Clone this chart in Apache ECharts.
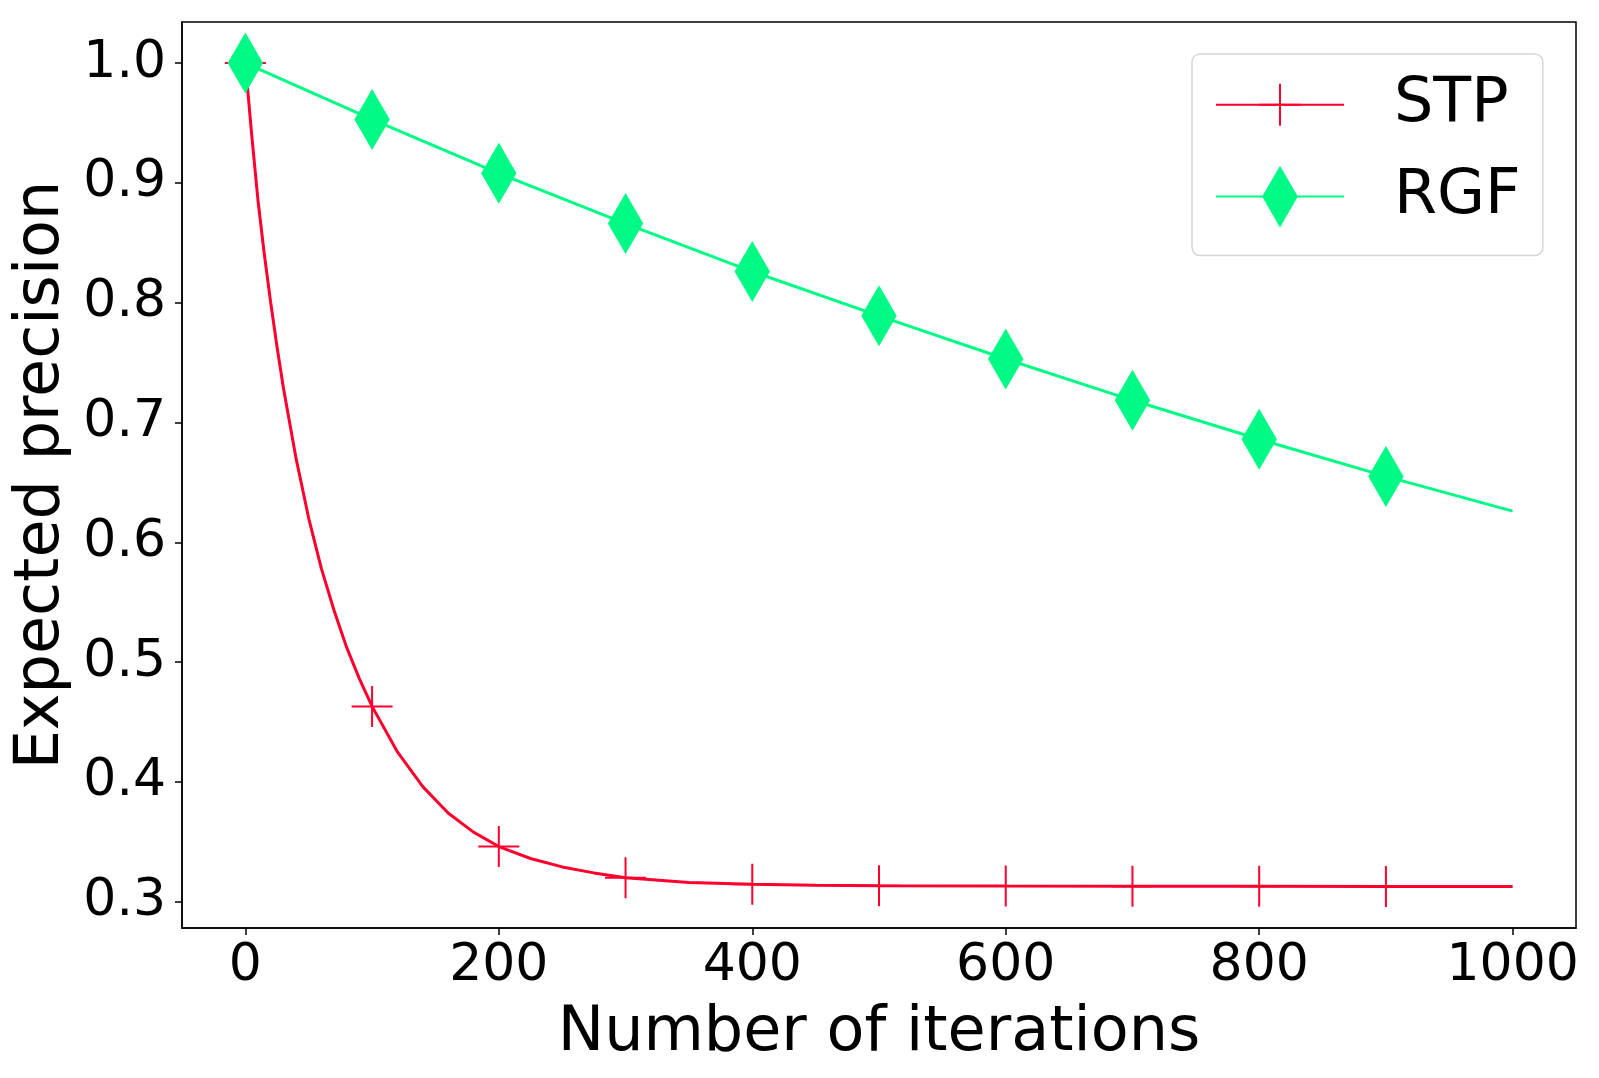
<!DOCTYPE html>
<html lang="en">
<head>
    <meta charset="UTF-8">
    <title>Expected precision</title>
    <script src="https://cdn.jsdelivr.net/npm/echarts@6/dist/echarts.min.js"></script>
    <style>
        html, body { margin: 0; padding: 0; background: #fff; }
    </style>
</head>
<body>
    <div id="main" style="width: 1599px;height:1078px;"></div>
    <script type="text/javascript">
        // values
        var stpIter = [0, 5, 10, 15, 20, 25, 30, 40, 50, 60, 70, 80, 90, 100, 120, 140, 160, 180, 200,
            225, 250, 275, 300, 350, 400, 450, 500, 600, 700, 800, 900, 1000]
        var stpPrec = [1.000, 0.940, 0.885, 0.840, 0.800, 0.763, 0.729, 0.670, 0.620, 0.578, 0.543,
            0.512, 0.486, 0.463, 0.425, 0.396, 0.374, 0.358, 0.346, 0.336, 0.329, 0.324, 0.320,
            0.316, 0.3145, 0.3137, 0.3133, 0.3130, 0.3128, 0.3128, 0.3127, 0.3127]
        var rgfIter = [0, 100, 200, 300, 400, 500, 600, 700, 800, 900, 1000]
        var rgfPrec = [1.000, 0.953, 0.908, 0.866, 0.826, 0.789, 0.753, 0.7185, 0.686, 0.655, 0.626]
        var markerIter = [0, 100, 200, 300, 400, 500, 600, 700, 800, 900]
        var xTicks = [0, 200, 400, 600, 800, 1000]
        var yTicks = [0.3, 0.4, 0.5, 0.6, 0.7, 0.8, 0.9, 1.0]

        var red = '#ff002e'
        var green = '#00fa85'
        var font = 'DejaVu Sans'
        // invisible moves keep the box square so the legend icon keeps its shape
        var plus = 'path://M0,0M60,60M30,9.5L30,50.5M9.5,30L50.5,30'
        var diamond = 'path://M0,0M62,62M31,0L49,31L31,62L13,31Z'

        let toData = (xs, ys, sym) => xs.map((x, i) => ({
            value: [x, ys[i]],
            symbol: markerIter.indexOf(x) >= 0 ? sym : 'none'
        }))

        var myChart = echarts.init(document.getElementById('main'));

        var option = {
            animation: false,
            backgroundColor: '#fff',
            grid: {
                left: 182, right: 23, top: 22, bottom: 150,
                show: true, borderColor: '#000', borderWidth: 1.5,
                containLabel: false, outerBoundsMode: 'none'
            },
            legend: {
                left: 1192, top: 54,
                orient: 'vertical',
                itemWidth: 128, itemHeight: 77, itemGap: 29,
                padding: [19, 22, 28, 23],
                backgroundColor: 'rgba(255,255,255,0.8)',
                borderColor: '#d6d6d6', borderWidth: 1.5, borderRadius: 8,
                lineStyle: { width: 2 },
                textStyle: { fontFamily: font, fontSize: 62, color: '#000', padding: [0, 0, 0, 45] },
                data: ['STP', 'RGF']
            },
            xAxis: {
                type: 'value', min: -50, max: 1050,
                name: 'Number of iterations', nameLocation: 'middle', nameGap: 75,
                nameTextStyle: { fontFamily: font, fontSize: 62, color: '#000' },
                splitLine: { show: false },
                axisLine: { onZero: false, lineStyle: { color: '#000', width: 1.5 } },
                axisTick: { length: 7, lineStyle: { color: '#000', width: 1.5 }, customValues: xTicks },
                axisLabel: {
                    fontFamily: font, fontSize: 52, color: '#000', margin: 12, customValues: xTicks,
                    formatter: v => String(v)
                }
            },
            yAxis: {
                type: 'value', min: 0.278, max: 1.0343,
                name: 'Expected precision', nameLocation: 'middle', nameGap: 104,
                nameTextStyle: { fontFamily: font, fontSize: 62, color: '#000' },
                splitLine: { show: false },
                axisLine: { show: true, onZero: false, lineStyle: { color: '#000', width: 1.5 } },
                axisTick: { show: true, length: 7, lineStyle: { color: '#000', width: 1.5 }, customValues: yTicks },
                axisLabel: {
                    fontFamily: font, fontSize: 52, color: '#000', margin: 16, customValues: yTicks,
                    formatter: v => v.toFixed(1)
                }
            },
            series: [{
                name: 'STP',
                type: 'line',
                data: toData(stpIter, stpPrec, plus),
                symbol: plus,
                symbolSize: 60,
                showAllSymbol: true,
                lineStyle: { color: red, width: 3 },
                itemStyle: { color: red, borderColor: red, borderWidth: 2 },
                z: 2
            }, {
                name: 'RGF',
                type: 'line',
                data: toData(rgfIter, rgfPrec, diamond),
                symbol: diamond,
                symbolSize: 61,
                showAllSymbol: true,
                lineStyle: { color: green, width: 3 },
                itemStyle: { color: green, borderWidth: 0 },
                z: 3
            }]
        };

        myChart.setOption(option);
    </script>
</body>
</html>
